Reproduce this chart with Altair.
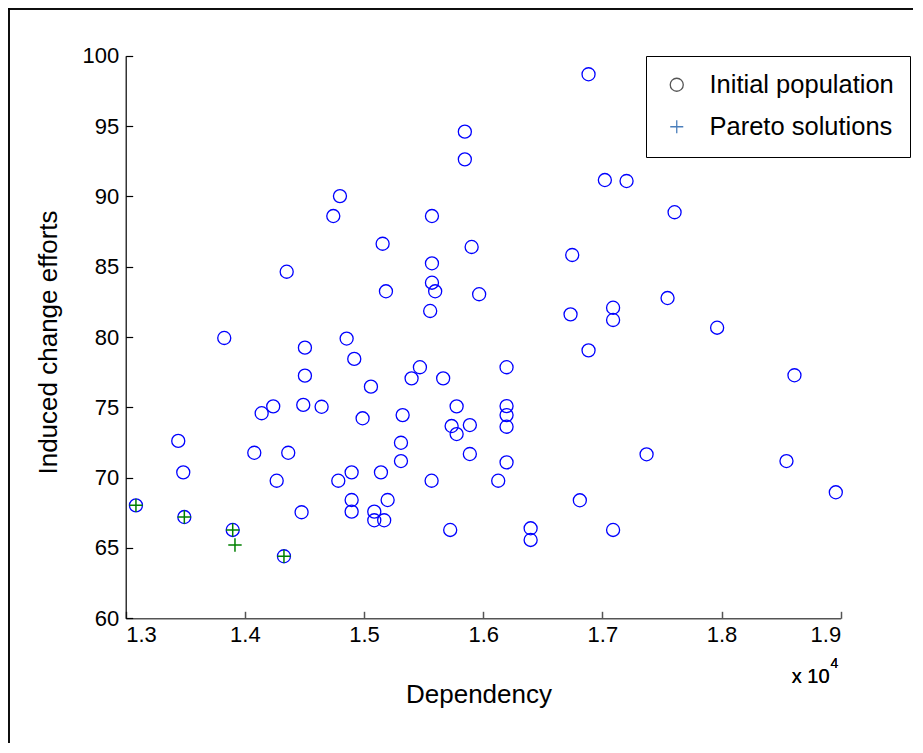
import altair as alt
import pandas as pd

# ---- data ----
init_dependency = [16884, 15846, 15846, 14798, 14742, 15570, 15156, 15903, 14351, 15570,
                   15570, 15597, 15184, 15966, 15555, 13827, 14854, 17021, 17203, 17606,
                   16747, 17547, 16733, 17090, 17090, 17963, 14504, 14918, 14504, 15469,
                   15399, 15664, 15058, 14238, 14141, 14490, 14644, 15777, 14988, 15324,
                   15735, 15888, 15777, 13441, 15310, 14079, 14364, 15888, 15310, 13483,
                   14896, 15142, 14267, 14784, 15567, 14896, 15198, 13086, 14476, 14896,
                   15086, 15086, 15169, 13492, 15723, 13898, 14328, 16884, 16196, 18612,
                   16196, 16196, 16196, 17371, 18545, 16196, 16126, 18959, 16811, 16398,
                   16398, 17090]
init_effort = [98.68, 94.60, 92.63, 90.02, 88.60, 88.60, 86.63, 86.40, 84.64, 85.24,
               83.86, 83.25, 83.25, 83.04, 81.85, 79.93, 79.89, 91.16, 91.09, 88.87,
               85.83, 82.77, 81.61, 82.08, 81.21, 80.66, 79.24, 78.44, 77.25, 77.85,
               77.06, 77.06, 76.47, 75.07, 74.58, 75.17, 75.04, 75.07, 74.22, 74.45,
               73.67, 73.74, 73.10, 72.61, 72.48, 71.77, 71.77, 71.68, 71.18, 70.38,
               70.38, 70.38, 69.78, 69.78, 69.78, 68.41, 68.41, 68.03, 67.54, 67.58,
               67.58, 66.97, 66.97, 67.20, 66.28, 66.28, 64.41, 79.05, 77.85, 77.28,
               75.09, 74.45, 73.62, 71.66, 71.18, 71.09, 69.78, 68.96, 68.39, 66.40,
               65.57, 66.28]

pareto_dependency = [13086, 13492, 13898, 13917, 14328]
pareto_effort = [68.03, 67.20, 66.28, 65.21, 64.41]

series_names = ["Initial population", "Pareto solutions"]
x_ticks = [13000, 14000, 15000, 16000, 17000, 18000, 19000]
y_ticks = [60, 65, 70, 75, 80, 85, 90, 95, 100]

# ---- layout ----
W, H = 905, 735
X0, X1 = 117.7, 832.7
Y0, Y1 = 610.3, 47.7
FONT = "Liberation Sans"
PLUS = "M-1,0L1,0M0,-1L0,1"

init_df = pd.DataFrame({"dep": init_dependency, "eff": init_effort})
par_df = pd.DataFrame({"dep": pareto_dependency, "eff": pareto_effort})
leg_df = pd.DataFrame({"series": series_names})

xs = alt.Scale(domain=[13000, 19000], range=[X0, X1], nice=False, zero=False)
ys = alt.Scale(domain=[60, 100], range=[Y0, Y1], nice=False, zero=False)

circles = alt.Chart(init_df).mark_point(
    shape="circle", filled=False, stroke="#0000ff", strokeWidth=1.3, size=170, opacity=1
).encode(
    x=alt.X("dep:Q", scale=xs, axis=alt.Axis(
        orient="bottom", offset=-(H - Y0), values=x_ticks,
        labelExpr="format(datum.value/10000, '.1f')",
        ticks=False, labelPadding=6, labelFontSize=22, labelFont=FONT, labelColor="black",
        domainColor="#555555", domainWidth=1.6, grid=False,
        title="Dependency", titleFont=FONT, titleFontSize=26, titleFontWeight="normal",
        titleColor="black", titleX=470.5, titleY=84, titleBaseline="alphabetic",
        titleAlign="center", titleAnchor="start")),
    y=alt.Y("eff:Q", scale=ys, axis=alt.Axis(
        orient="left", offset=-X0, values=y_ticks,
        ticks=False, labelPadding=7, labelFontSize=22, labelFont=FONT, labelColor="black",
        domainColor="black", domainWidth=1.2, grid=False,
        title="Induced change efforts", titleFont=FONT, titleFontSize=26,
        titleFontWeight="normal", titleColor="black", titleX=-69.7, titleY=334,
        titleAngle=270, titleBaseline="alphabetic", titleAlign="center", titleAnchor="start")),
)

pluses = alt.Chart(par_df).mark_point(
    shape=PLUS, filled=False, stroke="#008000", strokeWidth=1.5, size=180, opacity=1
).encode(
    x=alt.X("dep:Q", scale=xs, axis=alt.Axis(
        orient="top", offset=-Y0, values=x_ticks, labels=False, domain=False,
        tickSize=7, tickColor="#555555", tickWidth=1.5, grid=False, title=None)),
    y=alt.Y("eff:Q", scale=ys, axis=alt.Axis(
        orient="right", offset=-(W - X0), values=y_ticks, labels=False, domain=False,
        tickSize=7, tickColor="black", tickWidth=1.2, grid=False, title=None)),
)

leg = alt.Legend(
    title=None, orient="none", legendX=638, legendY=48,
    strokeColor="black", fillColor="white", padding=16, rowPadding=15,
    labelFontSize=25.5, labelFont=FONT, labelColor="black", labelLimit=500,
    symbolSize=170, symbolStrokeWidth=1.3, symbolOpacity=1,
    symbolOffset=2, labelOffset=20,
)
legend_layer = alt.Chart(leg_df).mark_point(filled=False, opacity=0).encode(
    shape=alt.Shape("series:N", scale=alt.Scale(domain=series_names, range=["circle", PLUS]), legend=leg),
    stroke=alt.Stroke("series:N", scale=alt.Scale(domain=series_names, range=["#555555", "#4a7ebb"]), legend=leg),
)

border_top = alt.Chart(leg_df).mark_rule(color="black", strokeWidth=1.5).encode(
    x=alt.value(0), x2=alt.value(W), y=alt.value(1))
border_left = alt.Chart(leg_df).mark_rule(color="black", strokeWidth=1.5).encode(
    x=alt.value(1), y=alt.value(0), y2=alt.value(H))

exp_text = alt.Chart(leg_df).mark_text(
    align="left", baseline="alphabetic", fontSize=20, font=FONT, color="black"
).encode(x=alt.value(783.7), y=alt.value(674.7), text=alt.value("x 10"))
exp_sup = alt.Chart(leg_df).mark_text(
    align="left", baseline="alphabetic", fontSize=14, font=FONT, color="black"
).encode(x=alt.value(822.5), y=alt.value(660), text=alt.value("4"))

chart = alt.layer(
    border_top, border_left, circles, pluses, legend_layer, exp_text, exp_sup
).resolve_scale(
    x="independent", y="independent"
).resolve_axis(
    x="independent", y="independent"
).properties(
    width=W, height=H, padding=0, autosize=alt.AutoSizeParams(type="none")
).configure_view(stroke=None).configure(background="white")

chart.save("out.html", embed_options={"renderer": "svg", "actions": False})
